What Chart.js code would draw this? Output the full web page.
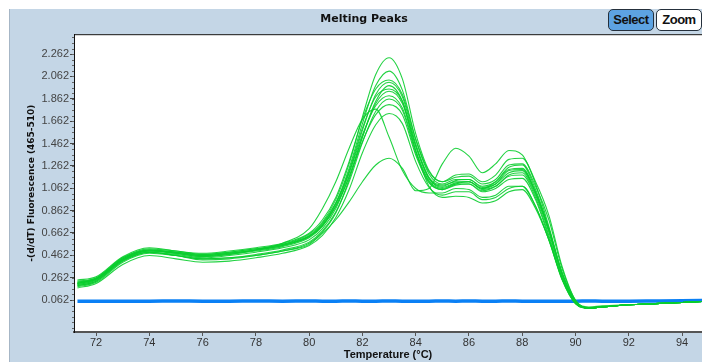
<!DOCTYPE html>
<html>
<head>
<meta charset="utf-8">
<script src="https://cdn.jsdelivr.net/npm/chart.js@4.4.1/dist/chart.umd.min.js"></script>
<style>
  html, body { margin: 0; padding: 0; background: #fff; }
  #wrap { position: relative; width: 702px; height: 362px; }
  #wrap canvas { position: absolute; left: 0; top: 0; }
  .btn { position: absolute; top: 9px; height: 20px; border: 1px solid #25303c; border-radius: 5px;
         font: bold 13px "Liberation Sans", Arial, sans-serif; letter-spacing: -0.5px;
         line-height: 20px; text-align: center; color: #111; }
  #selectBtn { left: 608px; width: 44px; background: #5da3e2; }
  #zoomBtn { left: 656px; width: 44px; background: #fff; }
</style>
</head>
<body>
<div id="wrap">
  <canvas id="peaks" width="702" height="362"></canvas>
  <div class="btn" id="selectBtn">Select</div>
  <div class="btn" id="zoomBtn">Zoom</div>
</div>
<script>
// temperature points shared by all traces (°C)
const temps = [71.3, 72, 73, 74, 75, 76, 77, 78, 79, 80, 80.5, 81, 81.5, 82, 82.5, 83, 83.5, 84, 84.5, 85,
  85.5, 86, 86.5, 87, 87.5, 88, 88.5, 89, 89.5, 90, 90.5, 91, 92, 93, 94, 94.8];

// -(d/dT) fluorescence for each sample
const sampleA = [0.22,0.26,0.44,0.52,0.50,0.47,0.49,0.52,0.56,0.65,0.76,0.96,1.28,1.70,2.08,2.23,2.04,1.55,1.22,1.12,1.16,1.17,1.10,1.14,1.27,1.28,1.08,0.78,0.34,0.06,-0.01,0.00,0.02,0.03,0.04,0.05];
const sampleB = [0.20,0.24,0.42,0.50,0.49,0.46,0.48,0.51,0.55,0.63,0.74,0.93,1.24,1.64,1.98,2.11,1.94,1.50,1.19,1.10,1.14,1.14,1.07,1.10,1.20,1.22,1.02,0.68,0.28,0.04,-0.01,0.00,0.02,0.03,0.04,0.05];
const sampleC = [0.24,0.27,0.45,0.53,0.50,0.48,0.50,0.53,0.57,0.66,0.78,0.98,1.30,1.68,1.95,2.03,1.90,1.50,1.21,1.12,1.18,1.19,1.12,1.18,1.32,1.33,1.12,0.82,0.36,0.06,0.00,0.01,0.02,0.03,0.04,0.05];
const sampleD = [0.21,0.25,0.43,0.51,0.48,0.45,0.47,0.50,0.54,0.62,0.72,0.90,1.20,1.58,1.90,2.01,1.88,1.46,1.16,1.09,1.12,1.12,1.05,1.08,1.17,1.18,0.98,0.64,0.26,0.04,-0.01,0.00,0.02,0.03,0.04,0.05];
const sampleE = [0.19,0.23,0.41,0.49,0.47,0.44,0.46,0.49,0.53,0.60,0.70,0.88,1.17,1.52,1.82,1.93,1.82,1.44,1.15,1.08,1.13,1.14,1.08,1.12,1.23,1.24,1.03,0.69,0.30,0.05,-0.01,0.00,0.02,0.03,0.04,0.05];
const sampleF = [0.23,0.26,0.44,0.51,0.49,0.47,0.49,0.52,0.56,0.64,0.75,0.93,1.20,1.54,1.80,1.89,1.78,1.40,1.13,1.06,1.10,1.10,1.03,1.06,1.14,1.15,0.96,0.62,0.25,0.04,-0.01,0.00,0.02,0.03,0.04,0.05];
const sampleG = [0.18,0.22,0.40,0.48,0.46,0.43,0.44,0.47,0.51,0.58,0.68,0.85,1.12,1.47,1.75,1.86,1.76,1.38,1.12,1.05,1.09,1.10,1.04,1.08,1.18,1.20,1.00,0.67,0.28,0.04,-0.01,0.00,0.02,0.03,0.04,0.05];
const sampleH = [0.22,0.25,0.43,0.50,0.48,0.46,0.48,0.51,0.55,0.63,0.73,0.90,1.16,1.48,1.72,1.81,1.72,1.36,1.11,1.05,1.10,1.12,1.06,1.10,1.22,1.23,1.02,0.70,0.30,0.05,-0.01,0.00,0.02,0.03,0.04,0.05];
const sampleI = [0.17,0.21,0.38,0.46,0.43,0.40,0.41,0.44,0.48,0.55,0.64,0.80,1.05,1.38,1.63,1.73,1.64,1.30,1.07,1.00,1.03,1.03,0.96,0.98,1.06,1.08,0.90,0.60,0.25,0.03,-0.01,0.00,0.02,0.03,0.04,0.05];
const sampleJ = [0.20,0.24,0.42,0.50,0.48,0.45,0.47,0.51,0.57,0.70,0.88,1.12,1.42,1.68,1.77,1.52,1.22,1.06,1.02,1.02,1.06,1.05,0.98,1.00,1.08,1.08,0.90,0.60,0.24,0.03,-0.01,0.00,0.02,0.03,0.04,0.05];
const sampleK = [0.21,0.25,0.42,0.49,0.46,0.43,0.44,0.46,0.50,0.56,0.66,0.78,0.94,1.12,1.27,1.33,1.24,1.04,1.06,1.28,1.42,1.35,1.20,1.28,1.40,1.36,1.10,0.72,0.30,0.05,-0.01,0.00,0.02,0.03,0.04,0.05];
const sampleL = [0.21,0.25,0.43,0.51,0.49,0.46,0.48,0.51,0.55,0.63,0.73,0.92,1.22,1.60,1.88,1.95,1.84,1.44,1.15,1.07,1.11,1.12,1.06,1.12,1.25,1.27,1.05,0.70,0.30,0.05,-0.01,0.00,0.02,0.03,0.04,0.05];
const sampleM = [0.19,0.23,0.41,0.49,0.46,0.42,0.43,0.46,0.50,0.57,0.67,0.84,1.14,1.52,1.84,1.98,1.84,1.40,1.08,0.98,0.99,0.98,0.93,0.95,1.03,1.05,0.88,0.60,0.25,0.03,-0.01,0.00,0.02,0.03,0.04,0.05];
// negative control (flat blue trace)
const blankTrace = [0.052,0.052,0.052,0.052,0.054,0.052,0.052,0.054,0.052,0.054,0.052,0.052,0.054,0.052,0.052,0.054,0.052,0.052,0.052,0.054,0.052,0.054,0.052,0.052,0.054,0.052,0.052,0.052,0.052,0.052,0.054,0.052,0.052,0.054,0.056,0.058];

const xTicks = [72, 74, 76, 78, 80, 82, 84, 86, 88, 90, 92, 94];
const yTicks = [0.062, 0.262, 0.462, 0.662, 0.862, 1.062, 1.262, 1.462, 1.662, 1.862, 2.062, 2.262];

const greens = [sampleA, sampleB, sampleC, sampleD, sampleE, sampleF, sampleG, sampleH, sampleI, sampleJ, sampleK, sampleL, sampleM];
const toPoints = arr => temps.map((t, i) => ({ x: t, y: arr[i] }));

const datasets = greens.map(s => ({
  data: toPoints(s),
  borderColor: 'rgba(10, 205, 45, 0.9)',
  borderWidth: 1.1,
  pointRadius: 0,
  cubicInterpolationMode: 'monotone',
}));
datasets.push({
  data: toPoints(blankTrace),
  borderColor: '#0a80f5',
  borderWidth: 3.5,
  pointRadius: 0,
  cubicInterpolationMode: 'monotone',
});

const fontFam = '"Liberation Sans", Arial, sans-serif';
const boldFam = '"DejaVu Sans", Verdana, sans-serif';

// panel background, white plot area, top border and minor y ticks
const frame = {
  id: 'frame',
  beforeDraw(chart) {
    const { ctx, chartArea: a } = chart;
    ctx.save();
    ctx.fillStyle = '#fff';
    ctx.fillRect(0, 0, chart.width, chart.height);
    ctx.fillStyle = '#c4d6e6';
    ctx.fillRect(10, 9, chart.width - 10, chart.height - 9);
    ctx.fillStyle = '#a6b6c6';
    ctx.fillRect(9, 9, 1, chart.height - 9);
    ctx.fillStyle = '#fff';
    ctx.fillRect(a.left, a.top, a.right - a.left, a.bottom - a.top);
    ctx.restore();
  },
  afterDraw(chart) {
    const { ctx, chartArea: a } = chart;
    const y = chart.scales.y;
    ctx.save();
    ctx.strokeStyle = '#111';
    ctx.lineWidth = 1;
    ctx.beginPath();
    ctx.moveTo(a.left, a.top + 0.5);
    ctx.lineTo(a.right, a.top + 0.5);
    ctx.stroke();
    ctx.strokeStyle = '#666';
    ctx.beginPath();
    for (let v = 0.062 - 0.25; v < y.max; v += 0.05) {
      if (v < y.min) continue;
      const py = Math.round(y.getPixelForValue(v)) + 0.5;
      ctx.moveTo(a.left - 2, py);
      ctx.lineTo(a.left, py);
    }
    ctx.stroke();
    ctx.restore();
  },
};

new Chart(document.getElementById('peaks'), {
  type: 'line',
  data: { datasets },
  options: {
    responsive: false,
    animation: false,
    devicePixelRatio: 1,
    layout: { padding: { left: 26, right: 0, top: 0, bottom: 0 } },
    plugins: {
      legend: { display: false },
      tooltip: { enabled: false },
      title: {
        display: true,
        text: 'Melting Peaks',
        color: '#111',
        font: { family: boldFam, size: 11, weight: 'bold' },
        padding: { top: 13, bottom: 8 },
      },
    },
    scales: {
      x: {
        type: 'linear',
        min: 71.17,
        max: 94.75,
        afterBuildTicks: s => { s.ticks = xTicks.map(v => ({ value: v })); },
        afterFit: s => { s.height = 30; },
        ticks: { color: '#333', padding: 0, maxRotation: 0, autoSkip: false,
                 font: { family: fontFam, size: 11 } },
        grid: { drawOnChartArea: false, tickLength: 4, color: '#555' },
        border: { color: '#555', width: 2 },
        title: { display: true, text: 'Temperature (°C)', color: '#111', padding: { top: 0, bottom: 0 },
                 font: { family: fontFam, size: 11, weight: 'bold' } },
      },
      y: {
        min: -0.224,
        max: 2.44,
        afterBuildTicks: s => { s.ticks = yTicks.map(v => ({ value: v })); },
        afterFit: s => { s.width = 48; },
        ticks: { color: '#444', padding: 1, callback: v => v.toFixed(3),
                 font: { family: fontFam, size: 11 } },
        grid: { drawOnChartArea: false, tickLength: 4, color: '#444' },
        border: { color: '#111', width: 1 },
        title: { display: true, text: '-(d/dT) Fluorescence (465-510)', color: '#111', padding: { top: 0, bottom: 0 },
                 font: { family: boldFam, size: 9, weight: 'bold' } },
      },
    },
  },
  plugins: [frame],
});
</script>
</body>
</html>
